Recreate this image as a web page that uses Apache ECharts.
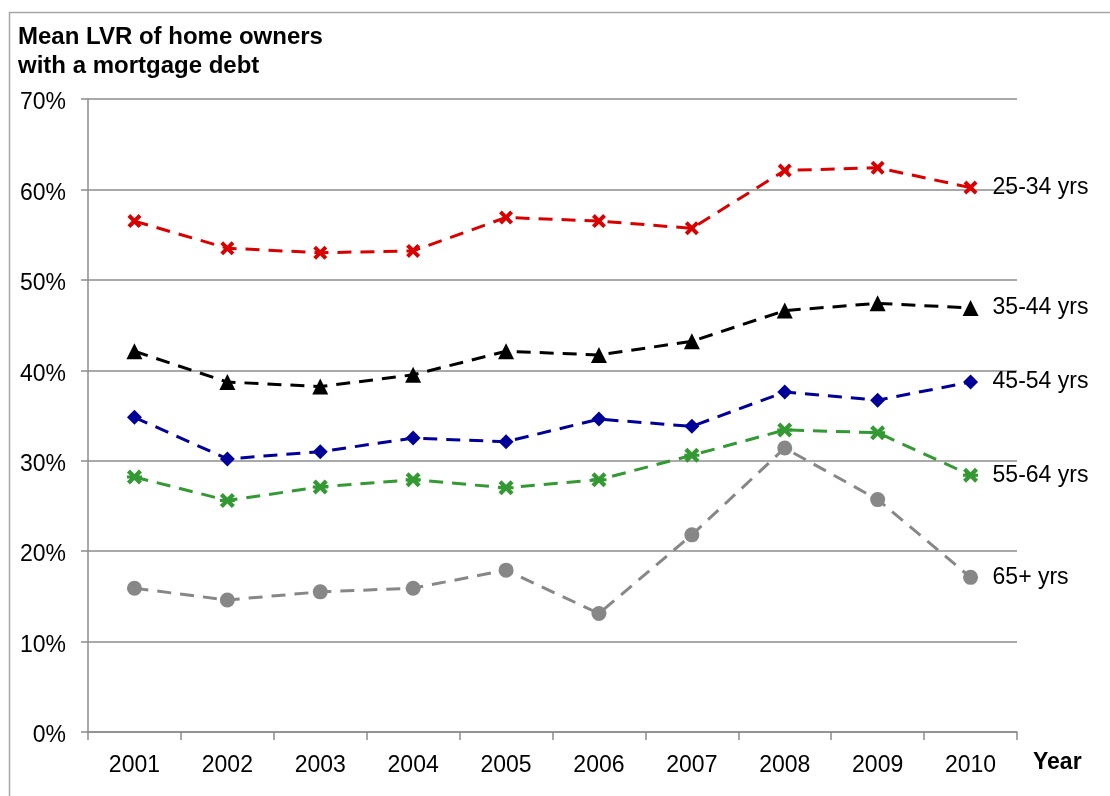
<!DOCTYPE html>
<html>
<head>
  <meta charset="utf-8">
  <script src="https://cdn.jsdelivr.net/npm/echarts@6/dist/echarts.min.js"></script>
  <style>
    html, body { margin: 0; padding: 0; background: #fff; }
    #main { width: 1110px; height: 796px; }
  </style>
</head>
<body>
<div id="main"></div>
<script>
  var years = ['2001', '2002', '2003', '2004', '2005', '2006', '2007', '2008', '2009', '2010'];
  var yTicks = [0, 10, 20, 30, 40, 50, 60, 70];

  var age2534 = [56.5, 53.5, 53.0, 53.2, 56.9, 56.5, 55.7, 62.1, 62.4, 60.2];
  var age3544 = [42.1, 38.7, 38.2, 39.5, 42.1, 41.7, 43.2, 46.6, 47.4, 46.9];
  var age4554 = [34.8, 30.2, 31.0, 32.5, 32.1, 34.6, 33.8, 37.6, 36.7, 38.7];
  var age5564 = [28.2, 25.6, 27.1, 27.9, 27.0, 27.9, 30.6, 33.4, 33.1, 28.4];
  var age65 = [15.9, 14.6, 15.5, 15.9, 17.9, 13.1, 21.8, 31.4, 25.7, 17.1];

  var crossPath = 'path://M0,2L2,0L5,3L8,0L10,2L7,5L10,8L8,10L5,7L2,10L0,8L3,5Z';
  var starPath = 'path://M0,2L2,0L5,3L8,0L10,2L7,5L10,8L8,10L5,7L2,10L0,8L3,5Z M0,4L10,4L10,6L0,6Z';

  var font = '"Liberation Sans", Arial, sans-serif';

  function makeSeries(name, data, color, symbol, size) {
    return {
      name: name,
      type: 'line',
      data: data,
      symbol: symbol,
      symbolSize: size,
      showAllSymbol: true,
      itemStyle: { color: color },
      lineStyle: { color: color, width: 3, type: [14, 9] },
      endLabel: {
        show: true,
        formatter: '{a}',
        distance: 22,
        color: '#000',
        fontFamily: font,
        fontSize: 23
      }
    };
  }

  var chart = echarts.init(document.getElementById('main'));
  chart.setOption({
    animation: false,
    title: {
      text: 'Mean LVR of home owners\nwith a mortgage debt',
      left: 18,
      top: 23,
      padding: 0,
      textStyle: {
        fontFamily: font,
        fontSize: 24,
        fontWeight: 'bold',
        color: '#000',
        lineHeight: 29
      }
    },
    grid: { left: 88, right: 93, top: 99, bottom: 64 },
    xAxis: {
      type: 'category',
      data: years,
      boundaryGap: true,
      axisLine: { lineStyle: { color: '#8c8c8c', width: 1.5 } },
      axisTick: { show: true, length: 8, lineStyle: { color: '#8c8c8c', width: 1.5 } },
      axisLabel: { margin: 22, color: '#000', fontFamily: font, fontSize: 23 }
    },
    yAxis: {
      type: 'value',
      min: yTicks[0],
      max: yTicks[yTicks.length - 1],
      interval: 10,
      axisLine: { show: true, lineStyle: { color: '#8c8c8c', width: 1.5 } },
      axisTick: { show: true, length: 7, lineStyle: { color: '#8c8c8c', width: 1.5 } },
      splitLine: { lineStyle: { color: '#8c8c8c', width: 1.5 } },
      axisLabel: {
        margin: 22,
        color: '#000',
        fontFamily: font,
        fontSize: 23,
        formatter: function (v) { return '{p|' + v + '%}'; },
        rich: {
          p: { fontFamily: font, fontSize: 23, color: '#000', padding: [8, 0, 0, 0] }
        }
      }
    },
    series: [
      makeSeries('65+ yrs', age65, '#878787', 'circle', 15),
      makeSeries('55-64 yrs', age5564, '#339933', starPath, 15),
      makeSeries('45-54 yrs', age4554, '#000099', 'diamond', 15),
      makeSeries('35-44 yrs', age3544, '#000000', 'triangle', 16),
      makeSeries('25-34 yrs', age2534, '#d90000', crossPath, 14)
    ],
    graphic: [
      {
        type: 'rect',
        left: 7,
        top: 10,
        shape: { width: 1120, height: 820 },
        style: { fill: 'none', stroke: '#a6a6a6', lineWidth: 1.5 },
        silent: true
      },
      {
        type: 'text',
        left: 1033,
        top: 751,
        style: {
          text: 'Year',
          fontFamily: font,
          fontSize: 23,
          fontWeight: 'bold',
          fill: '#000'
        }
      }
    ]
  });
</script>
</body>
</html>
